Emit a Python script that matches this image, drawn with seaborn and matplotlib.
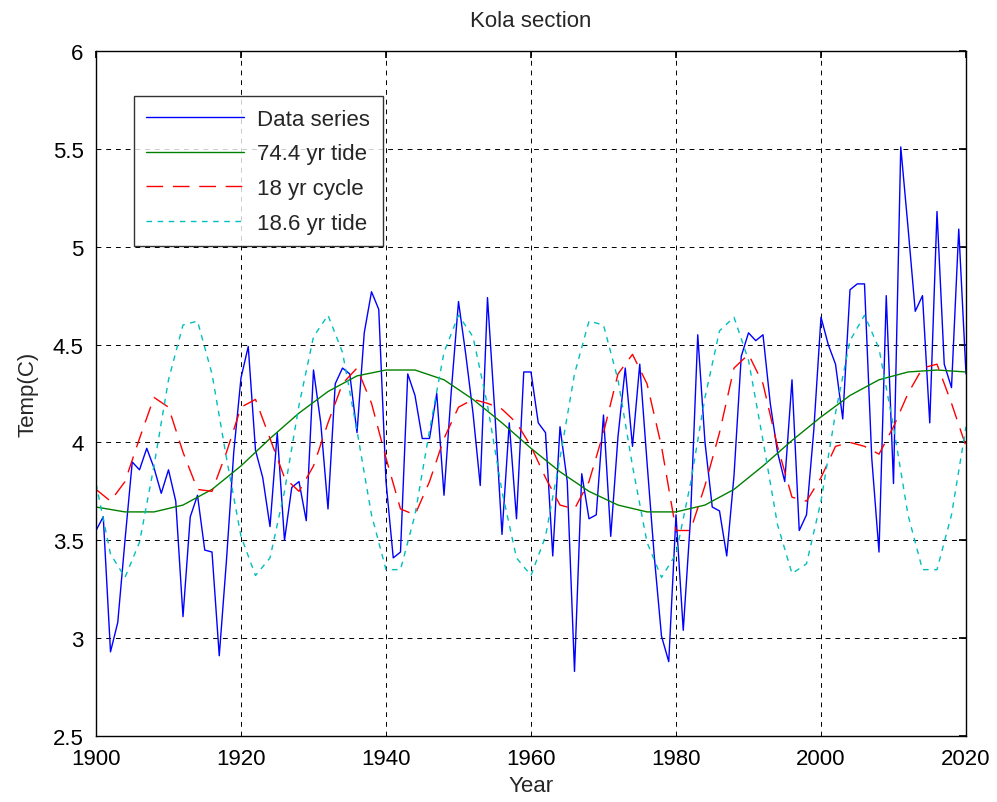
import numpy as np
import pandas as pd
import matplotlib
matplotlib.use("Agg")
import matplotlib.pyplot as plt
import seaborn as sns

sns.set_theme(style="white")
plt.rcParams['font.family'] = ['Liberation Sans', 'DejaVu Sans']

# --- data ---
years = list(range(1900, 2021))
temp = [3.55, 3.62, 2.93, 3.08, 3.50, 3.90, 3.86, 3.97, 3.87, 3.74,
        3.86, 3.70, 3.11, 3.62, 3.73, 3.45, 3.44, 2.91, 3.40, 3.95,
        4.33, 4.49, 3.96, 3.82, 3.57, 4.05, 3.50, 3.77, 3.80, 3.60,
        4.37, 4.10, 3.66, 4.30, 4.38, 4.35, 4.05, 4.56, 4.77, 4.68,
        3.80, 3.41, 3.44, 4.35, 4.24, 4.02, 4.02, 4.25, 3.73, 4.26,
        4.72, 4.45, 4.15, 3.78, 4.74, 4.16, 3.53, 4.10, 3.61, 4.36,
        4.36, 4.10, 4.05, 3.42, 4.08, 3.80, 2.83, 3.84, 3.61, 3.63,
        4.14, 3.52, 4.03, 4.38, 3.98, 4.40, 3.90, 3.42, 3.01, 2.88,
        3.63, 3.04, 3.61, 4.55, 4.00, 3.67, 3.65, 3.42, 3.83, 4.44,
        4.56, 4.52, 4.55, 4.20, 3.95, 3.80, 4.32, 3.55, 3.63, 4.06,
        4.64, 4.50, 4.40, 4.12, 4.78, 4.81, 4.81, 3.92, 3.44, 4.75,
        3.79, 5.51, 5.10, 4.67, 4.75, 4.10, 5.18, 4.40, 4.28, 5.09,
        4.35]

years_tide74 = list(range(1900, 2021, 4))
tide74 = [3.67, 3.645, 3.645, 3.68, 3.76, 3.88, 4.02, 4.15, 4.26, 4.34,
          4.37, 4.37, 4.32, 4.22, 4.10, 3.97, 3.85, 3.75, 3.68, 3.645,
          3.645, 3.68, 3.76, 3.88, 4.01, 4.13, 4.24, 4.32, 4.36, 4.37,
          4.36]

years2 = list(range(1900, 2021, 2))
cycle18 = [3.76, 3.70, 3.80, 4.02, 4.23, 4.18, 3.95, 3.76, 3.75, 3.95,
           4.18, 4.22, 4.02, 3.82, 3.75, 3.88, 4.10, 4.30, 4.38, 4.20,
           3.92, 3.66, 3.63, 3.80, 4.02, 4.18, 4.22, 4.20, 4.17, 4.10,
           3.98, 3.82, 3.68, 3.66, 3.80, 4.05, 4.35, 4.45, 4.30, 3.98,
           3.55, 3.55, 3.78, 4.05, 4.38, 4.45, 4.30, 3.98, 3.72, 3.70,
           3.82, 3.98, 4.00, 3.98, 3.94, 4.08, 4.25, 4.38, 4.40, 4.20,
           3.98]
tide18 = [3.79, 3.43, 3.31, 3.49, 3.88, 4.32, 4.60, 4.62, 4.35, 3.92,
          3.52, 3.32, 3.41, 3.75, 4.19, 4.54, 4.65, 4.46, 4.06, 3.63,
          3.35, 3.35, 3.63, 4.06, 4.46, 4.65, 4.54, 4.19, 3.75, 3.41,
          3.32, 3.52, 3.92, 4.35, 4.62, 4.60, 4.32, 3.88, 3.49, 3.31,
          3.43, 3.79, 4.23, 4.57, 4.64, 4.42, 4.01, 3.58, 3.33, 3.38,
          3.70, 4.15, 4.52, 4.65, 4.48, 4.08, 3.63, 3.35, 3.35, 3.63,
          4.08]

fig = plt.figure(figsize=(9.97, 8.03), dpi=100)
ax = fig.add_axes([96 / 997, 1 - 737 / 803, 870 / 997, 685 / 803])

sns.lineplot(x=years, y=temp, ax=ax, color='#0000ff', lw=1.0, label='Data series')
sns.lineplot(x=years_tide74, y=tide74, ax=ax, color='#008000', lw=1.0, label='74.4 yr tide')
sns.lineplot(x=years2, y=cycle18, ax=ax, color='#ff0000', lw=1.0,
             label='18 yr cycle').lines[-1].set_dashes([12, 7])
sns.lineplot(x=years2, y=tide18, ax=ax, color='#00bfbf', lw=1.0,
             label='18.6 yr tide').lines[-1].set_dashes([4, 4])

ax.set_xlim(1900, 2020)
ax.set_ylim(2.5, 6)
ax.set_xticks(range(1900, 2021, 20))
ax.set_yticks([2.5, 3, 3.5, 4, 4.5, 5, 5.5, 6])
ax.set_yticklabels(['2.5', '3', '3.5', '4', '4.5', '5', '5.5', '6'])
ax.grid(True, color='black', linestyle=(0, (5, 5)), lw=0.7)
ax.tick_params(direction='in', top=True, right=True, length=5, labelsize=16, colors='black')
ax.tick_params(axis='x', pad=9)
ax.tick_params(axis='y', pad=9)
for s in ax.spines.values():
    s.set_color('black')
    s.set_linewidth(1.0)

ax.set_title('Kola section', fontsize=16, pad=18)
ax.set_xlabel('Year', fontsize=16, labelpad=4)
ax.set_ylabel('Temp(C)', fontsize=16, labelpad=10)

leg = ax.legend(loc='upper left', bbox_to_anchor=(0.031, 0.95), fontsize=16,
                frameon=True, fancybox=False, edgecolor='black',
                handlelength=4.4, borderpad=0.55, labelspacing=0.62, handletextpad=0.6)
leg.get_frame().set_linewidth(1.0)

fig.savefig('out.png', dpi=100, facecolor='white')
